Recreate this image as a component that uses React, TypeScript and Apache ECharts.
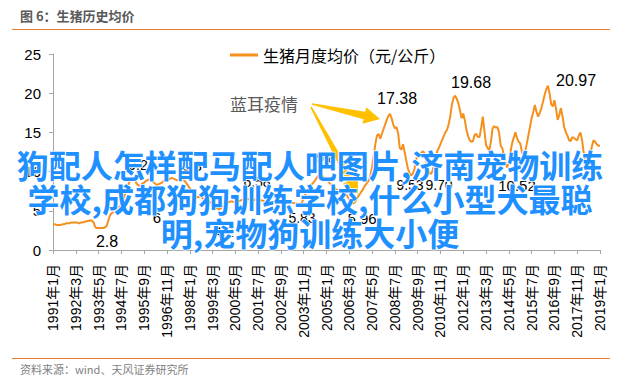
import React, { useEffect, useRef } from 'react';
import * as echarts from 'echarts';

// ---- data (yuan / kg, monthly average live hog price) ----
const p1991 = [3.3, 3.3, 3.2, 3.2, 3.2, 3.2, 3.3, 3.3, 3.4, 3.4, 3.4, 3.5];
const p1992 = [3.5, 3.5, 3.5, 3.5, 3.4, 3.5, 3.5, 3.6, 3.6, 3.7, 3.7, 3.8];
const p1993 = [3.7, 3.5, 2.9, 2.8, 2.8, 2.8, 2.8, 2.8, 2.9, 3.1, 3.8, 4.4];
const p1994 = [4.7, 4.8, 4.9, 5.0, 5.2, 5.5, 5.9, 6.4, 7.0, 7.6, 8.2, 8.7];
const p1995 = [8.9, 9.2, 9.0, 8.6, 8.3, 8.2, 8.3, 8.5, 8.6, 8.8, 8.9, 9.0];
const p1996 = [8.9, 8.8, 8.6, 8.4, 8.3, 8.4, 8.5, 8.6, 8.8, 8.9, 9.0, 9.0];
const p1997 = [9.1, 9.2, 9.1, 9.0, 8.9, 8.9, 9.0, 9.1, 9.0, 8.8, 8.5, 8.2];
const p1998 = [7.9, 7.6, 7.3, 7.0, 6.8, 6.7, 6.8, 6.7, 6.6, 6.5, 6.4, 6.3];
const p1999 = [6.2, 6.0, 5.8, 5.6, 5.4, 5.3, 5.2, 5.3, 5.5, 5.7, 5.9, 6.0];
const p2000 = [6.1, 6.2, 6.2, 6.1, 6.0, 6.1, 6.2, 6.3, 6.4, 6.4, 6.5, 6.5];
const p2001 = [6.5, 6.4, 6.3, 6.3, 6.4, 6.58, 6.5, 6.4, 6.3, 6.3, 6.2, 6.2];
const p2002 = [6.2, 6.1, 6.0, 6.0, 6.1, 6.2, 6.3, 6.2, 6.1, 6.0, 6.0, 6.1];
const p2003 = [6.3, 6.2, 6.1, 6.0, 6.0, 5.9, 5.9, 5.85, 5.83, 6.1, 6.6, 7.1];
const p2004 = [7.6, 7.9, 8.1, 8.4, 8.6, 8.9, 9.2, 9.5, 9.8, 9.6, 9.3, 9.1];
const p2005 = [9.0, 8.8, 8.5, 8.3, 8.1, 7.9, 7.7, 7.6, 7.7, 7.6, 7.5, 7.4];
const p2006 = [7.1, 6.8, 6.4, 6.1, 5.96, 6.0, 6.3, 6.7, 7.0, 7.3, 7.6, 8.0];
const p2007 = [8.3, 8.6, 8.9, 9.5, 10.6, 12.0, 13.5, 14.6, 14.8, 14.2, 14.8, 15.4];
const p2008 = [16.0, 16.6, 17.1, 17.38, 16.8, 16.0, 15.5, 15.7, 14.9, 13.0, 12.8, 13.5];
const p2009 = [12.5, 11.4, 10.4, 9.8, 9.53, 9.7, 10.3, 11.4, 12.4, 12.0, 12.3, 12.6];
const p2010 = [12.4, 11.5, 10.6, 9.9, 9.7, 10.0, 10.8, 11.8, 12.6, 13.0, 13.5, 14.0];
const p2011 = [14.5, 15.0, 15.3, 16.0, 17.0, 18.5, 19.4, 19.68, 19.3, 18.7, 17.8, 16.8];
const p2012 = [17.4, 16.5, 15.3, 14.5, 14.0, 13.8, 13.9, 14.7, 14.8, 14.4, 14.4, 15.6];
const p2013 = [17.0, 15.2, 13.4, 13.0, 12.7, 13.8, 15.5, 15.8, 15.6, 15.7, 15.0, 13.3];
const p2014 = [13.0, 12.0, 11.0, 10.52, 11.2, 12.5, 13.6, 14.3, 15.0, 14.3, 13.8, 13.6];
const p2015 = [12.6, 12.0, 12.5, 13.5, 14.6, 15.7, 16.8, 17.6, 18.5, 17.6, 17.0, 17.5];
const p2016 = [18.1, 18.9, 19.8, 20.5, 20.97, 20.0, 18.6, 18.3, 19.1, 18.0, 16.6, 17.2];
const p2017 = [18.1, 17.0, 15.7, 15.0, 14.6, 14.0, 13.9, 14.4, 14.3, 14.1, 14.0, 14.6];
const p2018 = [15.0, 14.0, 12.4, 11.2, 10.5, 10.8, 12.0, 13.2, 14.0, 13.8, 13.5, 13.3];
const p2019 = [13.3];

const prices: number[] = [
  ...p1991, ...p1992, ...p1993, ...p1994, ...p1995, ...p1996, ...p1997,
  ...p1998, ...p1999, ...p2000, ...p2001, ...p2002, ...p2003, ...p2004,
  ...p2005, ...p2006, ...p2007, ...p2008, ...p2009, ...p2010, ...p2011,
  ...p2012, ...p2013, ...p2014, ...p2015, ...p2016, ...p2017, ...p2018,
  ...p2019,
];

const categories: string[] = [];
for (let y = 1991; y <= 2019; y++) {
  for (let m = 1; m <= 12; m++) {
    if (categories.length >= prices.length) break;
    categories.push(`${y}年${m}月`);
  }
}

const yTicks = [0, 5, 10, 15, 20, 25];
const seriesName = '生猪月度均价（元/公斤）';
const titleText = '图 6：生猪历史均价';
const sourceText = '资料来源：wind、天风证券研究所';
const eventText = '蓝耳疫情';
const overlayText = '狗配人怎样配马配人吧图片,济南宠物训练\n学校,成都狗狗训练学校,什么小型犬最聪\n明,宠物狗训练大小便';

// annotation value labels (text, centre position, font size)
const valueLabels = [
  { t: '2.8', x: 107, y: 241, s: 16 },
  { t: '17.38', x: 397, y: 98, s: 16 },
  { t: '19.68', x: 471, y: 82, s: 16 },
  { t: '20.97', x: 576, y: 80, s: 16 },
  { t: '5.96', x: 362, y: 218, s: 15 },
  { t: '9.53', x: 410, y: 185, s: 14 },
  { t: '9.70', x: 439, y: 185, s: 14 },
  { t: '10.52', x: 517, y: 185, s: 15 },
  { t: '5.83', x: 302, y: 218, s: 14 },
  { t: '6.58', x: 257, y: 182, s: 14 },
  { t: '9.8', x: 326, y: 158, s: 14 },
  { t: '9.2', x: 138, y: 165, s: 14 },
  { t: '9.3', x: 192, y: 166, s: 14 },
  { t: '6', x: 157, y: 217, s: 15 },
  { t: '4.2', x: 224, y: 232, s: 14 },
];

const LATIN = "'Liberation Sans', Arial, 'Noto Sans CJK SC', sans-serif";
const CJK = "'Noto Sans CJK SC', 'Liberation Sans', sans-serif";

function arrowPoints(sx: number, sy: number, tx: number, ty: number) {
  const dx = tx - sx, dy = ty - sy;
  const L = Math.sqrt(dx * dx + dy * dy);
  const ux = dx / L, uy = dy / L;
  const nx = -uy, ny = ux;
  const hl = 16, hw = 8.5, w0 = 0.8, w1 = 3.8;
  const bx = tx - ux * hl, by = ty - uy * hl;
  return [
    [sx + nx * w0, sy + ny * w0],
    [bx + nx * w1, by + ny * w1],
    [bx + nx * hw, by + ny * hw],
    [tx, ty],
    [bx - nx * hw, by - ny * hw],
    [bx - nx * w1, by - ny * w1],
    [sx - nx * w0, sy - ny * w0],
  ];
}

export default function App() {
  const ref = useRef<HTMLDivElement>(null);
  useEffect(() => {
    document.body.style.margin = '0';
    if (!ref.current) return;
    const chart = echarts.init(ref.current, undefined, { renderer: 'svg' });
    const graphics: any[] = [
      { type: 'text', left: 20, top: 9, style: { text: titleText, font: `bold 13px ${CJK}`, fill: '#595959' } },
      { type: 'line', shape: { x1: 12, y1: 29.5, x2: 610, y2: 29.5 }, style: { stroke: '#ED7D31', lineWidth: 1 } },
      { type: 'line', shape: { x1: 12, y1: 358.5, x2: 610, y2: 358.5 }, style: { stroke: '#ED7D31', lineWidth: 1 } },
      { type: 'text', left: 20, top: 363, style: { text: sourceText, font: `11px ${CJK}`, fill: '#7F7F7F' } },
      { type: 'text', x: 230, y: 103, style: { text: eventText, font: `17px ${CJK}`, fill: '#595959', textAlign: 'left', textVerticalAlign: 'middle' } },
      { type: 'polygon', shape: { points: arrowPoints(312, 104, 380, 119) }, style: { fill: '#FFC000' } },
      { type: 'polygon', shape: { points: arrowPoints(311, 107, 358, 194) }, style: { fill: '#FFC000' } },
    ];
    valueLabels.forEach((v) => {
      graphics.push({
        type: 'text', x: v.x, y: v.y,
        style: { text: v.t, font: `${v.s}px ${LATIN}`, fill: '#000', textAlign: 'center', textVerticalAlign: 'middle' },
      });
    });
    graphics.push({
      type: 'text', x: 310, y: 147, z: 100,
      style: {
        text: overlayText, font: `bold 32px ${CJK}`, fill: '#1E90FF', lineHeight: 34,
        textAlign: 'center', textVerticalAlign: 'top', stroke: '#ffffff', lineWidth: 1.5,
      },
    });
    chart.setOption({
      animation: false,
      backgroundColor: '#ffffff',
      grid: { left: 53, right: 40, top: 54, bottom: 136, containLabel: false },
      legend: {
        left: 225, top: 42, itemWidth: 28, itemHeight: 3, itemGap: 5,
        data: [{ name: seriesName, icon: 'rect' }],
        textStyle: { fontSize: 16, color: '#000', fontFamily: CJK },
      },
      xAxis: {
        type: 'category', data: categories, boundaryGap: false,
        axisLine: { lineStyle: { color: '#A6A6A6', width: 1 } },
        axisTick: { interval: 13, length: 4, lineStyle: { color: '#A6A6A6' } },
        axisLabel: { interval: 13, rotate: 90, fontSize: 14, color: '#000', fontFamily: LATIN, margin: 14 },
        splitLine: { show: false },
      },
      yAxis: {
        type: 'value', min: yTicks[0], max: yTicks[yTicks.length - 1], interval: 5,
        axisLine: { show: true, lineStyle: { color: '#A6A6A6', width: 1 } },
        axisTick: { show: true, length: 4, lineStyle: { color: '#A6A6A6' } },
        axisLabel: { fontSize: 15, color: '#000', fontFamily: LATIN, margin: 12 },
        splitLine: { show: false },
      },
      series: [
        {
          name: seriesName, type: 'line', data: prices, showSymbol: false,
          lineStyle: { color: '#F5901E', width: 2 }, itemStyle: { color: '#F5901E' },
        },
      ],
      graphic: graphics,
    });
    return () => chart.dispose();
  }, []);
  return <div ref={ref} style={{ position: 'fixed', left: 0, top: 0, width: 640, height: 386, background: '#fff' }} />;
}
